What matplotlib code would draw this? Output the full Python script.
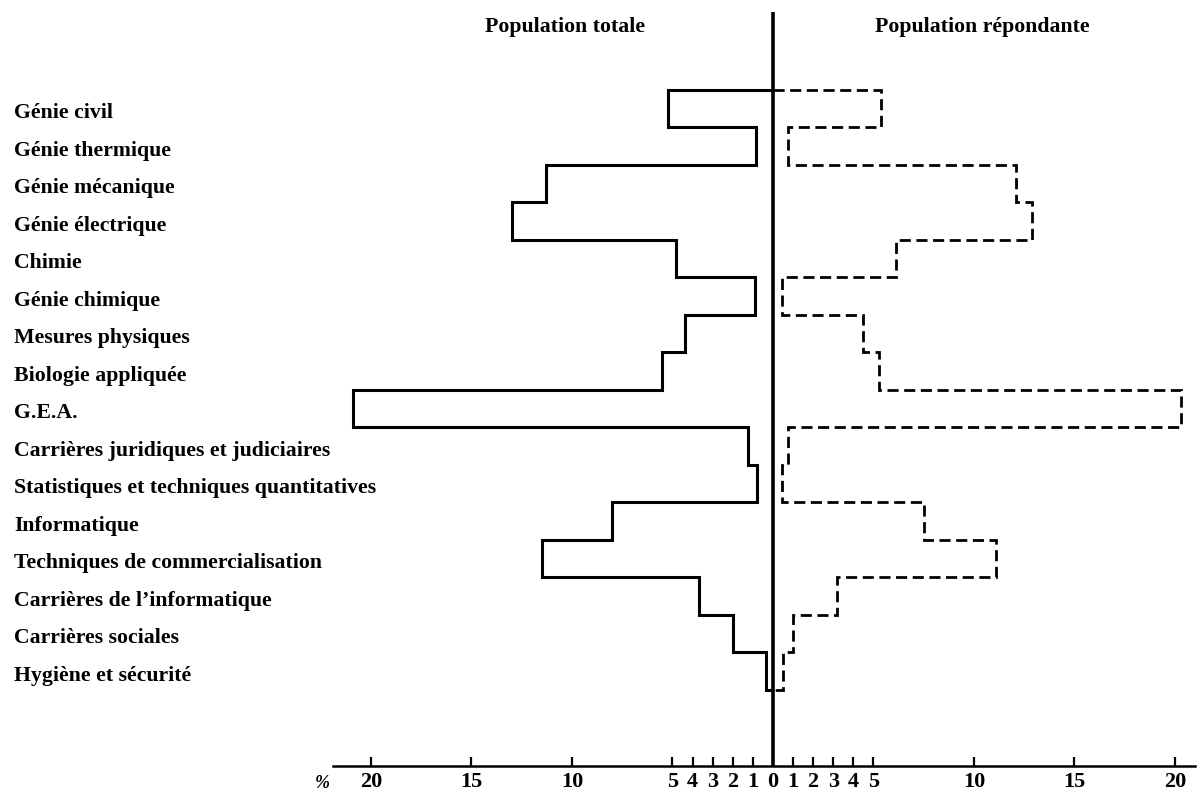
import numpy as np
import matplotlib
matplotlib.use('Agg')
import matplotlib.pyplot as plt
import matplotlib.transforms as mtransforms

# données (%)
filieres = ['Génie civil', 'Génie thermique', 'Génie mécanique', 'Génie électrique',
            'Chimie', 'Génie chimique', 'Mesures physiques', 'Biologie appliquée',
            'G.E.A.', 'Carrières juridiques et judiciaires',
            'Statistiques et techniques quantitatives', 'Informatique',
            'Techniques de commercialisation', "Carrières de l\u2019informatique",
            'Carrières sociales', 'Hygiène et sécurité']
pop_totale = [5.2, 0.85, 11.3, 13.0, 4.8, 0.9, 4.4, 5.5, 20.9, 1.25, 0.8, 8.0, 11.5, 3.7, 2.0, 0.35]
pop_repondante = [5.4, 0.75, 12.1, 12.9, 6.1, 0.45, 4.5, 5.3, 20.3, 0.75, 0.45, 7.5, 11.1, 3.2, 1.0, 0.5]
tick_vals = [-20, -15, -10, -5, -4, -3, -2, -1, 0, 1, 2, 3, 4, 5, 10, 15, 20]

plt.rcParams['font.family'] = ['Liberation Serif', 'DejaVu Serif']
plt.rcParams['font.weight'] = 'bold'

W, H = 1199, 795
fig = plt.figure(figsize=(W / 100, H / 100), dpi=100)
ax = fig.add_axes([333 / W, (H - 766) / H, (1195 - 333) / W, (766 - 12) / H])

n = len(filieres)
edges = np.arange(n + 1)

# histogrammes en escalier, gauche = population totale, droite = population répondante
ax.stairs(-np.array(pop_totale), edges, orientation='horizontal', baseline=0,
          color='black', linewidth=2.2)
ax.stairs(np.array(pop_repondante), edges, orientation='horizontal', baseline=0,
          color='black', linewidth=2.0, linestyle=(0, (4.0, 2.0)))

ax.axvline(0, color='black', linewidth=2.6)

ax.set_xlim(-21.89, 21.0)
ax.set_ylim(18.03, -2.08)

for s in ['top', 'left', 'right']:
    ax.spines[s].set_visible(False)
ax.spines['bottom'].set_linewidth(1.8)

ax.set_xticks(tick_vals)
ax.set_xticklabels([str(abs(v)) for v in tick_vals], fontsize=16, fontweight='bold')
ax.tick_params(axis='x', direction='in', length=6.5, width=1.6, pad=4)
ax.set_yticks([])

# libellés des filières
trans = mtransforms.blended_transform_factory(fig.transFigure, ax.transData)
for i, nom in enumerate(filieres):
    ax.text(14 / W, i + 0.62, nom, transform=trans, ha='left', va='center',
            fontsize=15.7, fontweight='bold', clip_on=False)

fig.text(565 / W, 1 - 27 / H, 'Population totale', ha='center', va='center',
         fontsize=15.7, fontweight='bold')
fig.text(982 / W, 1 - 27 / H, 'Population répondante', ha='center', va='center',
         fontsize=15.7, fontweight='bold')
fig.text(322 / W, 1 - 783 / H, '%', ha='center', va='center', fontsize=13,
         fontweight='bold', style='italic')

fig.savefig('out.png', dpi=100)
